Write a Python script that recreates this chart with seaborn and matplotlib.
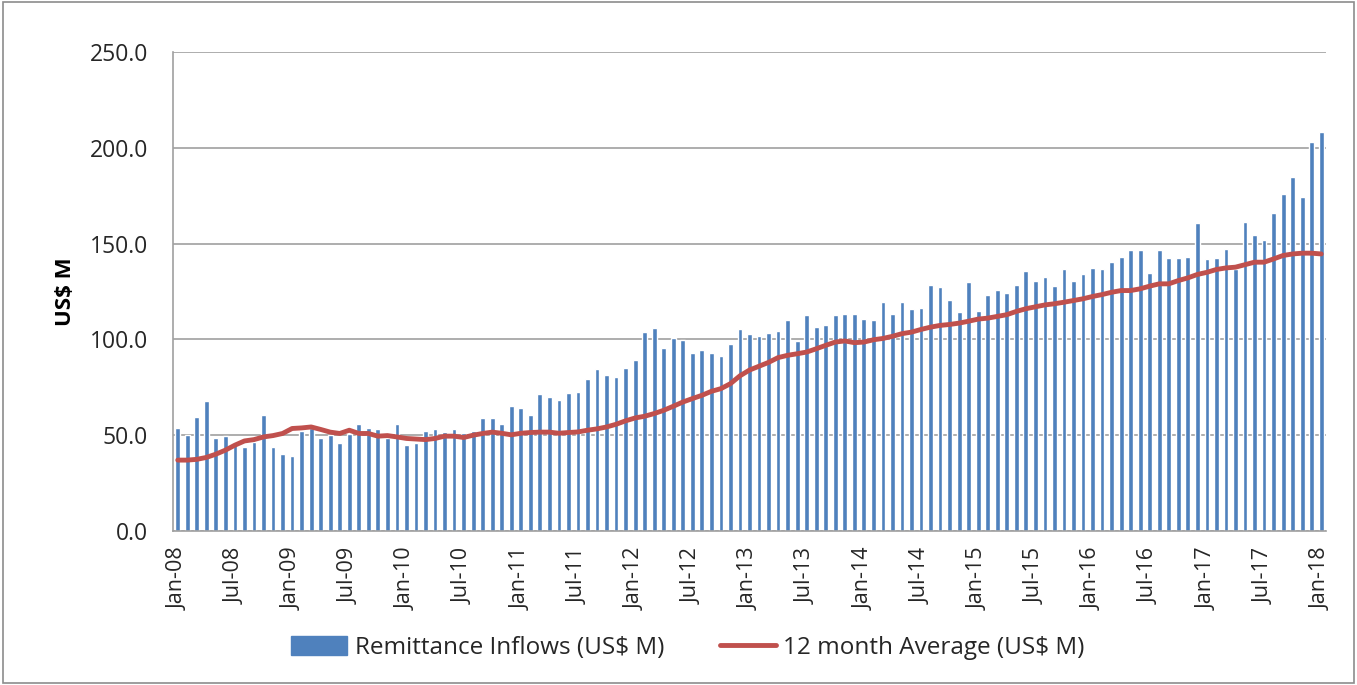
import numpy as np
import pandas as pd
import matplotlib
matplotlib.use("Agg")
import matplotlib.pyplot as plt
from matplotlib.patches import Patch, Rectangle
from matplotlib.lines import Line2D
import seaborn as sns

# monthly remittance inflows, Jan-08 .. Jan-18 (US$ M)
remittance = [
    54, 50, 59.4, 68, 48.6, 49.5, 45.8, 43.6, 46.5, 60.8, 44, 40,                 # 2008
    39.4, 52.2, 53.5, 48.3, 50, 46, 50.5, 56, 53.5, 53, 48.3, 56,                 # 2009
    44.8, 46, 52, 53, 51.5, 53, 50.9, 52, 58.9, 58.9, 56, 65.5,                   # 2010
    64, 60.8, 71.4, 70, 68.2, 72, 72.7, 79.3, 84.7, 81.4, 80.5, 85.2,             # 2011
    89.2, 104, 105.9, 95.3, 100.7, 99.5, 92.7, 94.6, 92.7, 91.3, 97.4, 105.2,     # 2012
    102.8, 101.9, 103.3, 104.5, 110, 99.3, 112.7, 106.6, 107.3, 112.7, 113.4, 113.4,  # 2013
    110.6, 109.9, 119.3, 113.4, 119.3, 116, 116.5, 128.6, 127.2, 120.5, 114.1, 129.8,  # 2014
    114.6, 123.3, 125.9, 124, 128.6, 135.8, 130.6, 132.6, 128, 136.6, 130.6, 133.9,    # 2015
    137.3, 136.6, 140.5, 143.2, 146.5, 146.5, 134.5, 146.5, 142.5, 142.5, 143.2, 160.6,  # 2016
    141.8, 142.5, 147.2, 137, 161.3, 154.5, 151.9, 165.8, 175.9, 185, 174.5, 203,      # 2017
    208.3,                                                                             # Jan-18
]

# 12 month average (US$ M)
avg_12m = [
    37, 37, 37.4, 38.4, 40.1, 42.2, 44.8, 47, 47.7, 49.1, 49.8, 50.9,
    53.5, 53.8, 54.3, 53, 51.6, 50.9, 52.6, 50.9, 50.9, 49.5, 49.8, 49.1,
    48.3, 48, 47.7, 48.3, 49.5, 49.5, 48.8, 50, 50.9, 51.6, 51, 50.2,
    51, 51.4, 51.6, 51.6, 51, 51.4, 51.7, 52.6, 53.3, 54.3, 55.7, 57.5,
    59, 59.9, 61.3, 63, 65.1, 67.3, 69.1, 70.8, 72.9, 74.3, 76.9, 81,
    84, 86, 88, 90.5, 91.7, 92.5, 93.4, 95.1, 96.9, 98.6, 99.2, 98.3,
    98.6, 99.8, 100.5, 101.6, 103, 103.8, 105.2, 106.4, 107.3, 107.8, 108.5, 109.5,
    110.6, 111.1, 112, 112.9, 114.6, 116, 117, 118, 118.6, 119.4, 120.3, 121.2,
    122.4, 123.4, 124.6, 125.5, 125.5, 126.4, 127.8, 129, 129, 130.7, 132.1, 133.9,
    135, 136.5, 137.3, 137.7, 139, 140.3, 140.3, 142, 143.8, 144.6, 145, 145,
    144.6,
]

tick_labels = ['Jan-08', 'Jul-08', 'Jan-09', 'Jul-09', 'Jan-10', 'Jul-10', 'Jan-11',
               'Jul-11', 'Jan-12', 'Jul-12', 'Jan-13', 'Jul-13', 'Jan-14', 'Jul-14',
               'Jan-15', 'Jul-15', 'Jan-16', 'Jul-16', 'Jan-17', 'Jul-17', 'Jan-18']

df = pd.DataFrame({'month': np.arange(len(remittance)),
                   'Remittance': remittance,
                   'Average': avg_12m})

sns.set_theme(style="white")
plt.rcParams['font.family'] = ['Open Sans', 'DejaVu Sans']

bar_color = '#4F81BD'
line_color = '#C0504D'
grid_color = '#A0A0A0'
text_color = '#262626'

fig = plt.figure(figsize=(13.57, 6.85), dpi=100)
ax = fig.add_axes([173 / 1357, 1 - 531 / 685, (1326 - 173) / 1357, (531 - 52) / 685])

sns.barplot(data=df, x='month', y='Remittance', color=bar_color, width=0.5,
            saturation=1, ax=ax, zorder=2)
sns.lineplot(data=df, x='month', y='Average', color=line_color, linewidth=3.5,
             ax=ax, zorder=3)

ax.set_xlim(-0.5, len(remittance) - 0.5)
ax.set_ylim(0, 250)
ax.set_yticks(np.arange(0, 251, 50))
ax.set_yticklabels([f"{v:.1f}" for v in np.arange(0, 251, 50)], fontsize=16.5, color=text_color)
ax.yaxis.grid(True, color=grid_color, linewidth=1.2, zorder=0)
ax.set_axisbelow(True)

# labels every 6 months, tick marks on the category boundaries
ax.set_xticks(np.arange(0, len(remittance), 6))
ax.set_xticklabels(tick_labels, rotation=90, fontsize=15.5, color=text_color)
ax.set_xticks(np.arange(-0.5, len(remittance), 6), minor=True)
ax.tick_params(axis='x', which='major', length=0, pad=12)
ax.tick_params(axis='x', which='minor', length=5, color=grid_color, width=1.2, direction='out')
ax.tick_params(axis='y', length=7, color=grid_color, width=1.2, direction='out', pad=11)

ax.set_xlabel('')
ax.set_ylabel('US$ M', fontsize=16, fontweight='bold', color='black', labelpad=10)

for side in ['top', 'right']:
    ax.spines[side].set_visible(False)
for side in ['left', 'bottom']:
    ax.spines[side].set_color(grid_color)
    ax.spines[side].set_linewidth(1.2)

handles = [Patch(facecolor=bar_color, edgecolor=bar_color),
           Line2D([0], [0], color=line_color, linewidth=3.5)]
fig.legend(handles, ['Remittance Inflows (US$ M)', '12 month Average (US$ M)'],
           loc='center', bbox_to_anchor=(0.507, 1 - 648 / 685), ncol=2, frameon=False,
           fontsize=17.5, handlelength=2.3, handleheight=0.8, columnspacing=2.3,
           handletextpad=0.3)

# outer chart border
fig.patches.append(Rectangle((0.002, 0.003), 0.996, 0.994, transform=fig.transFigure,
                             fill=False, edgecolor='#8C8C8C', linewidth=1.2))

fig.savefig('out.png', dpi=100)
